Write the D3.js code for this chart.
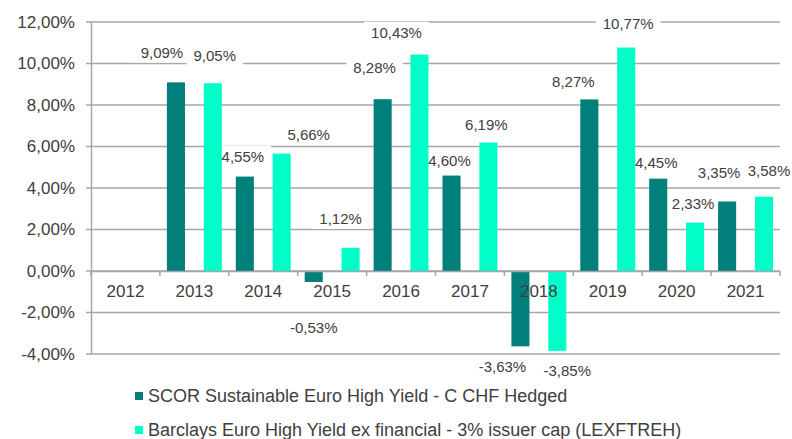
<!DOCTYPE html>
<html>
<head>
  <meta charset="utf-8">
  <title>SCOR Sustainable Euro High Yield vs benchmark</title>
  <script src="https://d3js.org/d3.v7.min.js"></script>
  <style>
    body { margin: 0; background: #fff; }
    text { font-family: "Liberation Sans", Arial, sans-serif; fill: #404040; }
  </style>
</head>
<body>
  <script>
    // Chart data
    let years = ["2012", "2013", "2014", "2015", "2016", "2017", "2018", "2019", "2020", "2021"];
    let seriesNames = [
      "SCOR Sustainable Euro High Yield - C CHF Hedged",
      "Barclays Euro High Yield ex financial - 3% issuer cap (LEXFTREH)"
    ];
    let fundValues = [null, 9.09, 4.55, -0.53, 8.28, 4.60, -3.63, 8.27, 4.45, 3.35];
    let indexValues = [null, 9.05, 5.66, 1.12, 10.43, 6.19, -3.85, 10.77, 2.33, 3.58];
    let yTicks = [-4, -2, 0, 2, 4, 6, 8, 10, 12];

    // label nudges (dx, dy) relative to default label spot, like the manual placement in the source
    let fundNudge = [null, [-14, -8], [-2, 2], [0, 24], [-8, -9], [-2, 7], [-18, -2], [-16, 4], [-2, 6], [-8, -7]];
    let indexNudge = [null, [2, -5], [27, 3], [-10, -7], [-23, 0], [-2, 4], [10, -2], [2, -2], [-2, 3], [5, -4]];

    let colors = ["#007f7b", "#00ffc8"];
    // percent with comma decimal and plain hyphen minus
    let fmt = function(v) { return d3.format(".2f")(v).replace(".", ",").replace("\u2212", "-") + "%"; };

    let margin = {top: 22, right: 12, bottom: 85, left: 91},
        width = 792 - margin.left - margin.right,
        height = 439 - margin.top - margin.bottom;

    let svg = d3.select("body")
                .append("svg")
                .attr("width", 792)
                .attr("height", 439)
                .append("g")
                .attr("transform", "translate(" + margin.left + "," + margin.top + ")");

    let x = d3.scaleBand().domain(years).range([0, width]).padding(0);
    let x1 = d3.scaleBand().domain([0, 1]).range([0, x.bandwidth()])
               .paddingInner(0.51).paddingOuter(0.19);
    let y = d3.scaleLinear().domain([-4, 12]).range([height, 0]);

    // Gridlines (extend a little left of the axis like tick marks)
    svg.append("g")
       .selectAll("line")
       .data(yTicks)
       .enter()
       .append("line")
       .attr("x1", -5)
       .attr("x2", width)
       .attr("y1", function(d) { return y(d); })
       .attr("y2", function(d) { return y(d); })
       .attr("stroke", "#a6a6a6")
       .attr("stroke-width", 1.5);

    // Y axis
    let yAxis = svg.append("g")
       .call(d3.axisLeft(y).tickValues(yTicks).tickSize(0).tickPadding(16).tickFormat(fmt));
    yAxis.select(".domain").attr("stroke", "#a6a6a6").attr("stroke-width", 1.5);
    yAxis.selectAll("text").style("font-size", "17px").attr("fill", "#404040");

    let rows = years.map(function(yr, i) {
      return [
        {year: yr, s: 0, v: fundValues[i], n: fundNudge[i]},
        {year: yr, s: 1, v: indexValues[i], n: indexNudge[i]}
      ];
    });
    let flat = [].concat.apply([], rows).filter(function(d) { return d.v !== null; });

    let labelPos = function(d) {
      let cx = x(d.year) + x1(d.s) + x1.bandwidth() / 2 + d.n[0];
      let cy = (d.v >= 0 ? y(d.v) - 22 : y(d.v) + 22) + d.n[1];
      return "translate(" + cx + "," + cy + ")";
    };

    // White label boxes go under the bars, so they only hide gridlines
    let boxLayer = svg.append("g");

    // Bars
    svg.selectAll("rect.bar")
       .data(flat)
       .enter()
       .append("rect")
       .attr("class", "bar")
       .attr("x", function(d) { return x(d.year) + x1(d.s); })
       .attr("width", x1.bandwidth())
       .attr("y", function(d) { return y(Math.max(0, d.v)); })
       .attr("height", function(d) { return Math.abs(y(d.v) - y(0)); })
       .attr("fill", function(d) { return colors[d.s]; });

    // X axis on the zero line
    let xAxis = svg.append("g")
       .attr("transform", "translate(0," + y(0) + ")")
       .call(d3.axisBottom(x).tickSize(0).tickPadding(14));
    xAxis.select(".domain").attr("stroke", "#a6a6a6").attr("stroke-width", 1.5);
    xAxis.selectAll("text").style("font-size", "17px").attr("fill", "#404040");
    xAxis.selectAll(".sep")
       .data(d3.range(years.length + 1))
       .enter()
       .append("line")
       .attr("x1", function(i) { return i * x.step(); })
       .attr("x2", function(i) { return i * x.step(); })
       .attr("y1", 0)
       .attr("y2", 5)
       .attr("stroke", "#a6a6a6")
       .attr("stroke-width", 1.5);

    // Data labels
    let labels = svg.selectAll("g.lbl")
       .data(flat)
       .enter()
       .append("g")
       .attr("class", "lbl")
       .attr("transform", labelPos);
    labels.append("text")
       .attr("text-anchor", "middle")
       .attr("dy", "0.35em")
       .style("font-size", "15px")
       .text(function(d) { return fmt(d.v); });
    labels.each(function(d) {
      let bb = d3.select(this).select("text").node().getBBox();
      boxLayer.append("rect")
       .attr("transform", labelPos(d))
       .attr("x", bb.x - 7)
       .attr("y", bb.y - 2)
       .attr("width", bb.width + 14)
       .attr("height", bb.height + 4)
       .attr("fill", "#fff");
    });

    // Legend
    let legend = d3.select("svg").append("g")
       .attr("transform", "translate(135,392)");
    let item = legend.selectAll("g")
       .data(seriesNames)
       .enter()
       .append("g")
       .attr("transform", function(d, i) { return "translate(0," + (i * 34) + ")"; });
    item.append("rect")
       .attr("width", 8)
       .attr("height", 8)
       .attr("fill", function(d, i) { return colors[i]; });
    item.append("text")
       .attr("x", 13)
       .attr("y", 4)
       .attr("dy", "0.35em")
       .style("font-size", "18px")
       .text(function(d) { return d; });
  </script>
</body>
</html>
